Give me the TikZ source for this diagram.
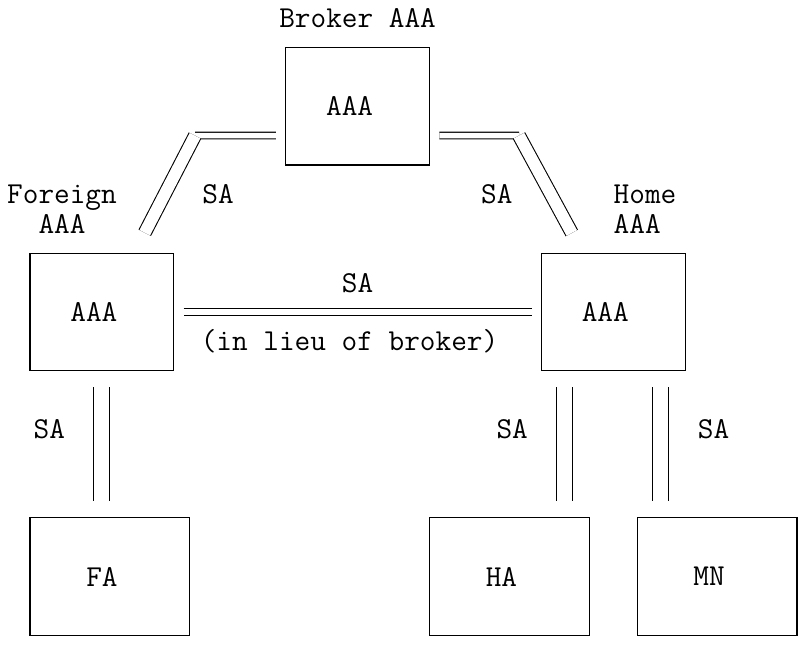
\documentclass[tikz,border=0pt]{standalone}
\usepackage{fontspec}
\usetikzlibrary{calc}

\begin{document}
\begin{tikzpicture}[
    x=0.75pt, y=-0.75pt,
    font=\ttfamily\fontsize{22.8pt}{22.05pt}\selectfont,
    line width=0.8pt,
    aaa/.style={rectangle, draw, inner sep=0pt, minimum width=107.85pt, minimum height=88.2pt,
        execute at end node={\hspace*{0.525em}}},
    agent/.style={aaa, minimum width=119.85pt},
    lbl/.style={inner sep=0pt},
    saeq/.style={double, double distance=4.2pt, shorten <=7pt, shorten >=7pt},
    sabar/.style={double, double distance=11.2pt, shorten <=12pt, shorten >=12pt},
    saslash/.style={double, double distance=8.9pt, shorten >=16.8pt}
]
\useasboundingbox (0,0) rectangle (801,644);

% AAA servers
\node[aaa] (broker) at (357.6,106.2) {AAA};
\node[aaa] (faaa) at (101.9,312) {AAA};
\node[aaa] (haaa) at (613.3,312) {AAA};

% Agents and mobile node
\node[agent] (fa) at (109.9,576.6) {FA};
\node[agent] (ha) at (509.4,576.6) {HA};
\node[agent] (mn) at (717.1,576.6) {MN};

% Names
\node[lbl] (brokername) at (357.6,18) {Broker AAA};
\node[lbl, align=center] (foreignname) at (62,209.1) {Foreign\\AAA};
\node[lbl, align=left, anchor=west] (homename) at (613.2,209.1) {Home\\AAA};

% Links to the broker
\coordinate (lbend) at (195,135.6);
\coordinate (rbend) at (519,135.6);
\draw[saeq, shorten >=0pt] ($(broker.west)+(0,29.4)$) -- (lbend);
\draw[saeq, shorten >=0pt] ($(broker.east)+(0,29.4)$) -- (rbend);
\draw[saslash] (lbend) -- ($(faaa.north west)+(105,0)$)
    node[pos=.5, anchor=west, xshift=24.5pt] (saforeign) {SA};
\draw[saslash] (rbend) -- ($(haaa.north west)+(41.6,0)$)
    node[pos=.5, anchor=east, xshift=-25pt] (sahome) {SA};

% Direct link
\draw[saeq] (faaa) -- (haaa)
    node[pos=.5, anchor=base, yshift=15pt] (sadirect) {SA}
    node[pos=.478, anchor=base, yshift=-28.8pt] (lieu) {(in lieu of broker)};

% Links to the agents
\coordinate (hapipe) at ($(haaa.south west)+(24,0)$);
\coordinate (mnpipe) at ($(haaa.south west)+(120,0)$);
\draw[sabar] (faaa.south) -- (faaa.south |- fa.north)
    node[pos=.463, anchor=base east, xshift=-24pt] (safa) {SA};
\draw[sabar] (hapipe) -- (hapipe |- ha.north)
    node[pos=.463, anchor=base east, xshift=-24pt] (saha) {SA};
\draw[sabar] (mnpipe) -- (mnpipe |- mn.north)
    node[pos=.463, anchor=base west, xshift=24pt] (samn) {SA};

\end{tikzpicture}
\end{document}
